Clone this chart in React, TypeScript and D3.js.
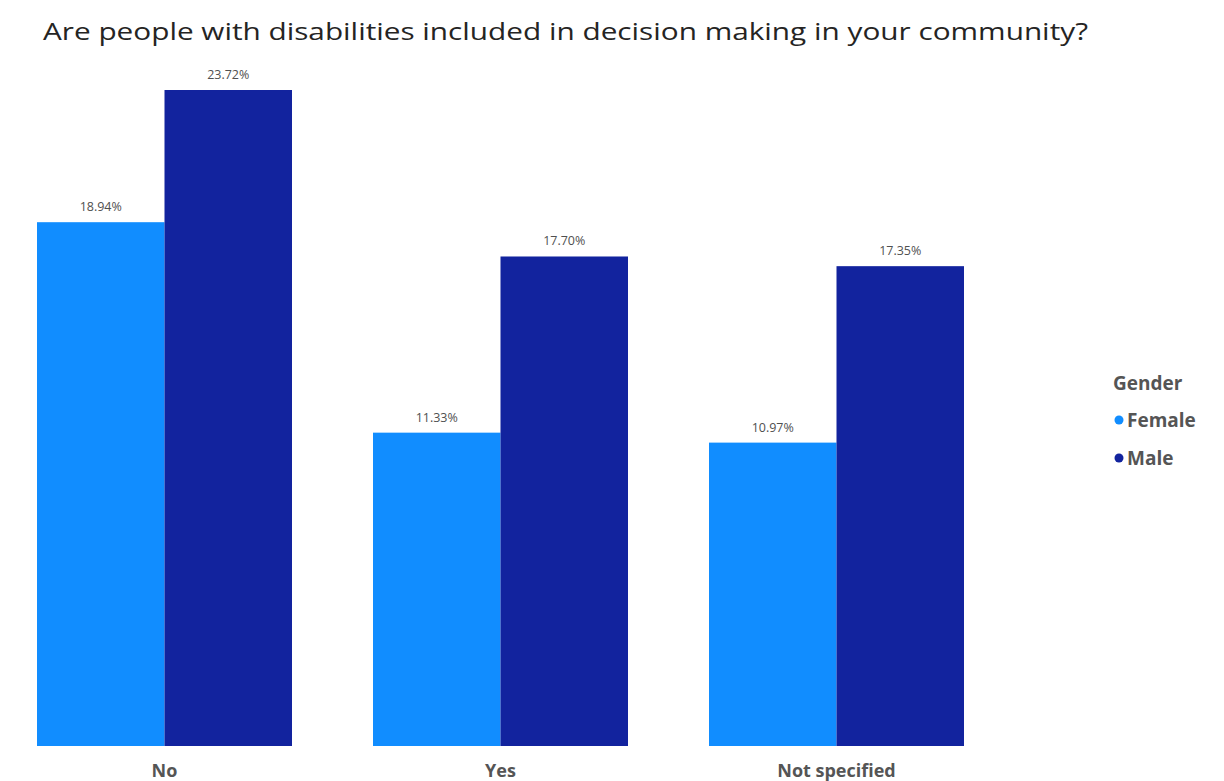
import React from "react";
import * as d3 from "d3";

const categories = ["No", "Yes", "Not specified"];
const seriesNames = ["Female", "Male"];
const femaleValues = [18.94, 11.33, 10.97];
const maleValues = [23.72, 17.7, 17.35];
const colors = ["#118DFF", "#12239E"];
const title = "Are people with disabilities included in decision making in your community?";
const legendTitle = "Gender";

export default function App() {
  const W = 1224, H = 781;
  const left = 37, right = 964, top = 90, bottom = 746;
  const x0 = d3.scaleBand<string>().domain(categories).range([left, right]).paddingInner(81 / 336).paddingOuter(0);
  const x1 = d3.scaleBand<string>().domain(seriesNames).range([0, x0.bandwidth()]).padding(0);
  const y = d3.scaleLinear().domain([0, 23.72]).range([bottom, top]);
  const vals = [femaleValues, maleValues];
  const font = "'Open Sans', 'Noto Sans', sans-serif";
  return (
    <svg width={W} height={H} style={{ position: "absolute", left: 0, top: 0, background: "#fff" }}>
      <text x={43} y={40} fontFamily={font} fontSize={23} fill="#252423" textLength={1045} lengthAdjust="spacingAndGlyphs">{title}</text>
      {categories.map((c, i) => (
        <g key={c}>
          {seriesNames.map((s, j) => {
            const v = vals[j][i];
            const bx = (x0(c) as number) + (x1(s) as number);
            return (
              <g key={s}>
                <rect x={bx} y={y(v)} width={x1.bandwidth()} height={bottom - y(v)} fill={colors[j]} />
                <text x={bx + x1.bandwidth() / 2} y={y(v) - 11} textAnchor="middle" fontFamily={font} fontSize={12.5} fill="#505050">
                  {v.toFixed(2)}%
                </text>
              </g>
            );
          })}
          <text x={(x0(c) as number) + x0.bandwidth() / 2} y={777} textAnchor="middle" fontFamily={font} fontSize={18} fontWeight={700} fill="#555555">{c}</text>
        </g>
      ))}
      <text x={1113} y={390} fontFamily={font} fontSize={19} fontWeight={700} fill="#555555">{legendTitle}</text>
      {seriesNames.map((s, j) => (
        <g key={s}>
          <circle cx={1119} cy={420 + j * 38} r={4.5} fill={colors[j]} />
          <text x={1127} y={427 + j * 38} fontFamily={font} fontSize={19} fontWeight={700} fill="#555555">{s}</text>
        </g>
      ))}
    </svg>
  );
}
